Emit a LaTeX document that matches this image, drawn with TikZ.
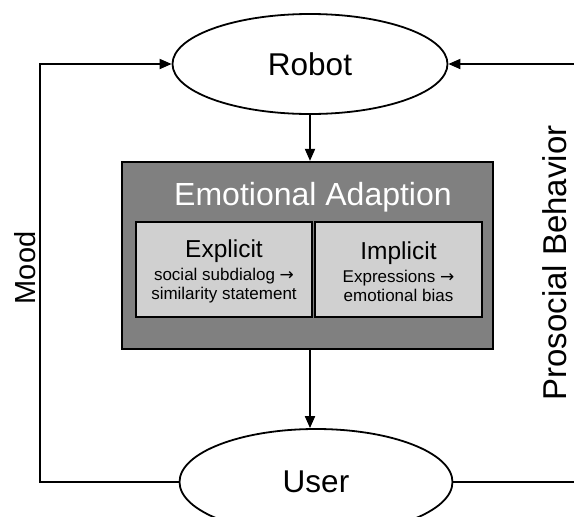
\documentclass[tikz,border=0pt]{standalone}
\usepackage{fontspec}
\setmainfont{Liberation Sans}
\newfontfamily\arrowfont{DejaVu Sans}
\usetikzlibrary{arrows.meta,positioning,shapes.geometric}
\definecolor{cdark}{HTML}{808080}
\definecolor{clight}{HTML}{D0D0D0}
\newcommand{\fs}[2]{\fontsize{#1}{#2}\selectfont}
\newcommand{\ra}{{\arrowfont\fs{17}{19}→}}
\tikzset{
  >={Triangle[length=12pt,width=10pt]},
  agent/.style={ellipse,draw=black,line width=1.8pt,fill=white,minimum width=275pt,
                minimum height=100pt,inner sep=0pt,font=\fs{31.5}{36}},
  outer/.style={draw=black,line width=2.2pt,fill=cdark,minimum width=371pt,
                minimum height=187pt,inner sep=0pt},
  mode/.style={draw=black,line width=2pt,fill=clight,minimum height=95pt,inner sep=0pt},
  modetxt/.style={align=center,font=\fs{17}{19},yshift=-2pt},
  flow/.style={line width=1.8pt},
  side/.style={rotate=90,font=\fs{#1}{#1}},
}

\begin{document}
\begin{tikzpicture}[x=1pt,y=-1pt]
\useasboundingbox (0,0) rectangle (574,517);
\clip (0,0) rectangle (574,517);

\node[agent] (robot) at (310,64) {Robot};
\node[outer] (box) at (307.5,255.5) {};
\node[agent,minimum width=273pt,minimum height=106pt] (user) at (316,482) {User};

\node[font=\fs{32}{36},text=white,anchor=base] (title) at (313,205) {Emotional Adaption};
\node[mode,minimum width=176pt] (expl) at (224,269.5) {};
\node[mode,minimum width=167pt] (impl) at (398.5,269.5) {};
\node[modetxt] (expltxt) at (expl)
  {{\fs{24.5}{22}Explicit}\\[4pt]social subdialog \ra\\similarity statement};
\node[modetxt] (impltxt) at (impl)
  {{\fs{24.5}{22}Implicit}\\[4pt]Expressions \ra\\emotional bias};

\node[side=29] (mood) at (25,268) {Mood};
\node[side=33] (pro) at (555,263) {Prosocial Behavior};

\coordinate (lc) at (40,64);
\coordinate (rc) at (580,64);

\draw[flow,->] (robot.south) -- (robot.south |- box.north);
\draw[flow,->] (robot |- box.south) -- (robot |- user.north);
\draw[flow,->] (user.west) -| (lc) |- (robot.west);
\draw[flow,->] (user.east) -| (rc) |- (robot.east);

\end{tikzpicture}
\end{document}
